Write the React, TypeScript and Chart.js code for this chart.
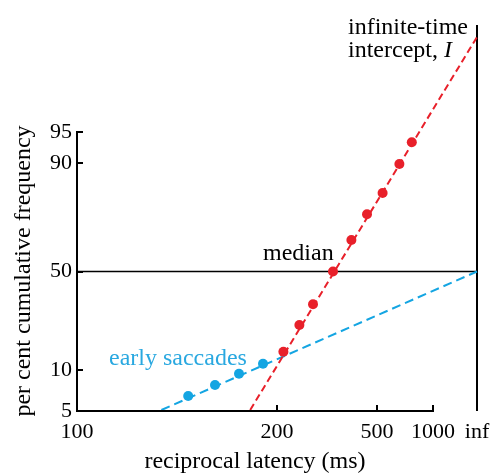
import React, { useEffect, useRef } from 'react';
import { Chart, registerables } from 'chart.js';

Chart.register(...registerables);

// x: reciprocal latency axis units (10 = 100 ms, 0 = infinite time), reversed
const xTickValues = [10, 5, 2.5, 1.1, 0];
const xTickLabels = ['100', '200', '500', '1000', 'inf'];
// y: probit units of cumulative frequency
const yTickValues = [-1.645, -1.16, 0, 1.28, 1.645];
const yTickLabels = ['5', '10', '50', '90', '95'];

// main (red) distribution
const mainX = [4.84, 4.44, 4.1, 3.6, 3.14, 2.75, 2.36, 1.94, 1.63];
const mainY = [-0.946, -0.631, -0.387, 0, 0.371, 0.675, 0.926, 1.268, 1.524];
// early saccades (blue)
const earlyX = [7.22, 6.55, 5.95, 5.35];
const earlyY = [-1.468, -1.338, -1.205, -1.087];
// fitted lines
const mainFitX = [5.67, 0];
const mainFitY = [-1.633, 2.765];
const earlyFitX = [7.89, 0];
const earlyFitY = [-1.633, 0];
// median reference line and infinite-time line
const medianX = [10, 0];
const medianY = [0, 0];
const infX = [0, 0];
const infY = [-1.645, 2.907];

const RED = '#e8202a';
const BLUE = '#14a5e2';
const SERIF = '"Liberation Serif", "Times New Roman", serif';

const pts = (xs: number[], ys: number[]) => xs.map((x, i) => ({ x, y: ys[i] }));

const noPad = (s: any) => {
  s.paddingLeft = 0;
  s.paddingRight = 0;
  s.paddingTop = 0;
  s.paddingBottom = 0;
};

const decor = {
  id: 'decor',
  afterDraw(chart: any) {
    const { ctx, scales } = chart;
    const x = scales.x;
    const y = scales.y;
    ctx.save();
    ctx.strokeStyle = '#000';
    ctx.lineWidth = 2;
    const yb = y.getPixelForValue(yTickValues[0]);
    // broken x axis: from 100 to 1000
    ctx.beginPath();
    ctx.moveTo(x.getPixelForValue(xTickValues[0]) - 1, yb);
    ctx.lineTo(x.getPixelForValue(xTickValues[3]) + 1, yb);
    ctx.stroke();
    // inward x ticks
    for (const v of xTickValues.slice(1, 4)) {
      const px = Math.round(x.getPixelForValue(v));
      ctx.beginPath();
      ctx.moveTo(px, yb);
      ctx.lineTo(px, yb - 6);
      ctx.stroke();
    }
    // inward y ticks
    const xl = x.getPixelForValue(xTickValues[0]);
    for (const v of yTickValues.slice(1)) {
      const py = Math.round(y.getPixelForValue(v));
      ctx.beginPath();
      ctx.moveTo(xl, py);
      ctx.lineTo(xl + 6, py);
      ctx.stroke();
    }
    // texts
    ctx.fillStyle = '#000';
    ctx.font = `24px ${SERIF}`;
    ctx.textBaseline = 'alphabetic';
    ctx.textAlign = 'left';
    ctx.fillText('median', 263, 260);
    ctx.fillText('infinite-time', 348, 34);
    const w = ctx.measureText('intercept, ').width;
    ctx.fillText('intercept, ', 348, 57);
    ctx.font = `italic 24px ${SERIF}`;
    ctx.fillText('I', 348 + w, 57);
    ctx.font = `24px ${SERIF}`;
    ctx.fillStyle = '#29a8e0';
    ctx.fillText('early saccades', 109, 365);
    ctx.fillStyle = '#000';
    ctx.textAlign = 'center';
    ctx.fillText('reciprocal latency (ms)', 255, 468);
    ctx.translate(30, 271);
    ctx.rotate(-Math.PI / 2);
    ctx.fillText('per cent cumulative frequency', 0, 0);
    ctx.restore();
  },
};

export default function App() {
  const ref = useRef<HTMLCanvasElement>(null);
  useEffect(() => {
    const chart = new Chart(ref.current!, {
      type: 'scatter',
      data: {
        datasets: [
          { data: pts(mainX, mainY), backgroundColor: RED, borderColor: RED, pointRadius: 5, pointBorderWidth: 0, showLine: false },
          { data: pts(earlyX, earlyY), backgroundColor: BLUE, borderColor: BLUE, pointRadius: 5, pointBorderWidth: 0, showLine: false },
          { data: pts(mainFitX, mainFitY), borderColor: RED, borderWidth: 2, borderDash: [7, 4], showLine: true, pointRadius: 0, clip: false } as any,
          { data: pts(earlyFitX, earlyFitY), borderColor: BLUE, borderWidth: 2, borderDash: [9, 5], showLine: true, pointRadius: 0, clip: false } as any,
          { data: pts(medianX, medianY), borderColor: '#000', borderWidth: 1.5, showLine: true, pointRadius: 0, clip: false } as any,
          { data: pts(infX, infY), borderColor: '#000', borderWidth: 2, showLine: true, pointRadius: 0, clip: false } as any,
        ],
      },
      options: {
        animation: false,
        responsive: false,
        devicePixelRatio: 1,
        layout: { padding: { top: 132, right: 14, left: 0, bottom: 0 } },
        plugins: { legend: { display: false }, tooltip: { enabled: false } },
        scales: {
          x: {
            type: 'linear',
            reverse: true,
            min: 0,
            max: 10,
            border: { display: false },
            grid: { display: false, drawTicks: false },
            afterBuildTicks: (s: any) => { s.ticks = xTickValues.map((value) => ({ value })); },
            afterFit: (s: any) => { s.height = 64; noPad(s); },
            ticks: {
              padding: 8,
              color: '#000',
              font: { family: SERIF, size: 22 },
              maxRotation: 0,
              autoSkip: false,
              callback: (v: any) => xTickLabels[xTickValues.indexOf(Number(v))] ?? '',
            },
          },
          y: {
            type: 'linear',
            min: -1.645,
            max: 1.645,
            border: { display: true, color: '#000', width: 2 },
            grid: { display: false, drawTicks: false },
            afterBuildTicks: (s: any) => { s.ticks = yTickValues.map((value) => ({ value })); },
            afterFit: (s: any) => { s.width = 77; noPad(s); },
            ticks: {
              padding: 5,
              color: '#000',
              font: { family: SERIF, size: 22 },
              autoSkip: false,
              callback: (v: any) => yTickLabels[yTickValues.indexOf(Number(v))] ?? '',
            },
          },
        },
      },
      plugins: [decor],
    });
    return () => chart.destroy();
  }, []);
  return (
    <div style={{ position: 'absolute', left: 0, top: 0, width: 491, height: 475, background: '#fff' }}>
      <canvas ref={ref} width={491} height={475} />
    </div>
  );
}
